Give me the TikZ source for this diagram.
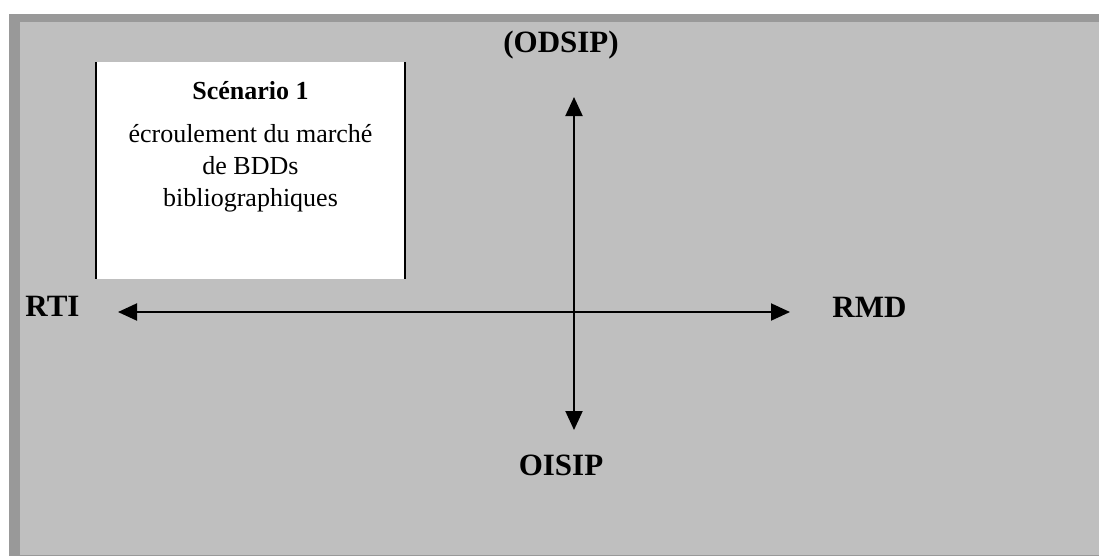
\documentclass[tikz,border=0pt]{standalone}
\usepackage{fontspec}
\setmainfont{Liberation Serif}
\usetikzlibrary{arrows.meta, positioning}

\begin{document}
\begin{tikzpicture}[
  x=1pt,
  y=-1pt,
  node distance=0pt,
  lbl/.style={
    font=\fontsize{31}{37}\selectfont\bfseries,
    inner sep=0pt,
    anchor=base
  },
  box/.style={
    fill=white,
    minimum width=309pt,
    minimum height=217pt,
    inner sep=0pt,
    outer sep=0pt
  },
  arr/.style={
    {Triangle[length=19pt,width=17pt]}-{Triangle[length=19pt,width=17pt]},
    line width=2pt
  }
]

\useasboundingbox (0,0) rectangle (1099,558);
\fill [white] (0,0) rectangle (1099,558);
\fill [black!40] (9,14) rectangle (1099,556);
\fill [black!25] (20,22) rectangle (1099,555);

\node [box] (scen) at (250.5,170.5) {};
\draw [line width=2pt] (scen.north west) -- (scen.south west);
\draw [line width=2pt] (scen.north east) -- (scen.south east);

\node [below=19pt of scen.north, anchor=north, inner sep=0pt,
  font=\fontsize{26}{31}\selectfont\bfseries] (titre) {Scénario 1};
\node [below=24pt of titre.south, anchor=north, inner sep=0pt, align=center,
  font=\fontsize{26}{32}\selectfont] (texte)
  {écroulement du marché\\de BDDs\\bibliographiques};

\node [lbl] (rti) at (52.5,316) {RTI};
\node [lbl] (rmd) at (869.5,317) {RMD};
\node [lbl] (odsip) at (561,52) {(ODSIP)};
\node [lbl] (oisip) at (561,475) {OISIP};

\coordinate (haut) at (574,97);
\coordinate (bas) at (574,430);
\coordinate (gauche) at (118,312);
\coordinate (droite) at (790,312);

\draw [arr] (gauche) -- (droite);
\draw [arr] (haut) -- (bas);

\end{tikzpicture}
\end{document}
